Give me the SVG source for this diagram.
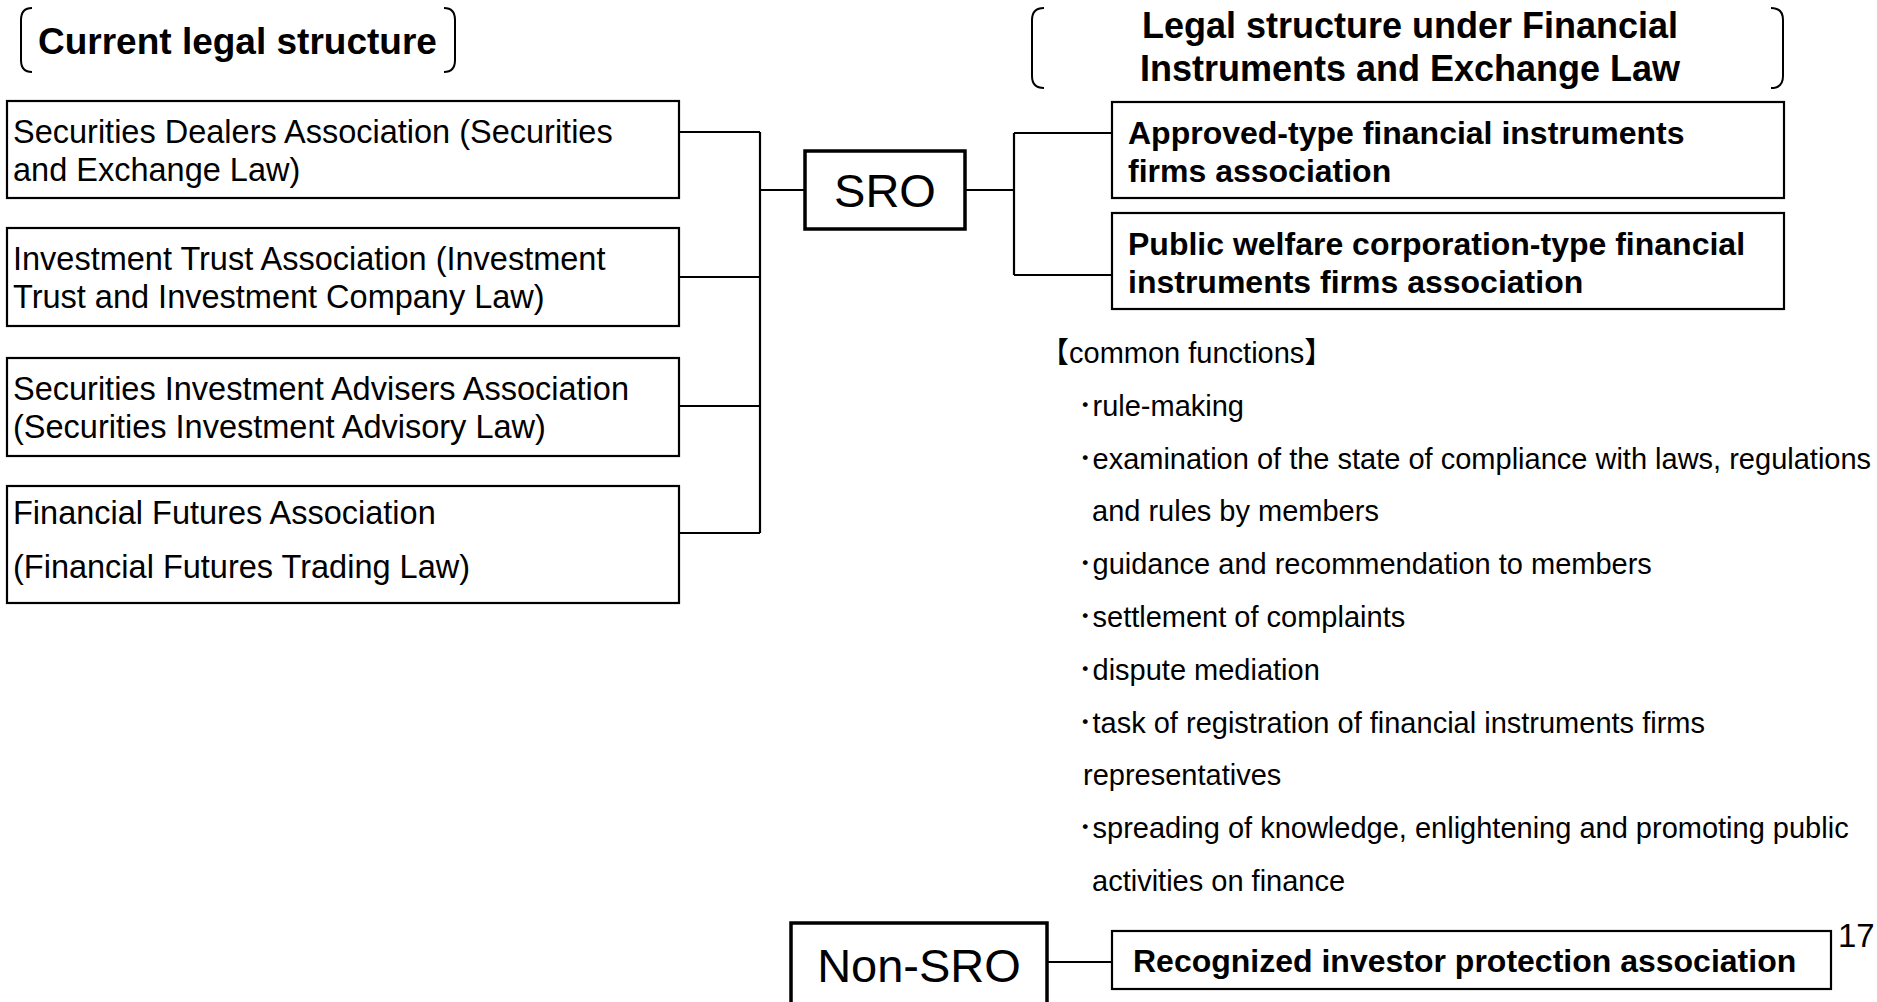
<svg xmlns="http://www.w3.org/2000/svg" width="1877" height="1002" viewBox="0 0 1877 1002">
<style>
  .bg{fill:#ffffff}
  .box{fill:#ffffff;stroke:#000;stroke-width:2.2}
  .tbox{fill:#ffffff;stroke:#000;stroke-width:3.5}
  .brk{fill:none;stroke:#000;stroke-width:2}
  .con{fill:none;stroke:#000;stroke-width:2.2}
  text{font-family:"Liberation Sans",Arial,"Noto Sans CJK JP",sans-serif;fill:#000}
  .hd{font-size:36px;font-weight:bold}
  .hl{font-size:37px;font-weight:bold}
  .lt{font-size:32.5px}
  .rt{font-size:32px;font-weight:bold}
  .big{font-size:47px}
  .fn{font-size:29px}
  .pg{font-size:33px}
</style>
<rect class="bg" x="0" y="0" width="1877" height="1002"/>

<g id="heading-current">
  <path class="brk" d="M32,8 Q21,8 21,20 L21,60 Q21,72 32,72"/>
  <path class="brk" d="M444,8 Q455,8 455,20 L455,60 Q455,72 444,72"/>
  <text class="hl" x="38" y="54">Current legal structure</text>
</g>

<g id="heading-new">
  <path class="brk" d="M1044,8 Q1032,8 1032,20 L1032,76 Q1032,88 1044,88"/>
  <path class="brk" d="M1771,8 Q1783,8 1783,20 L1783,76 Q1783,88 1771,88"/>
  <text class="hd" x="1410" y="38" text-anchor="middle">Legal structure under Financial</text>
  <text class="hd" x="1410" y="81" text-anchor="middle">Instruments and Exchange Law</text>
</g>

<g id="connectors">
  <path class="con" d="M679,132 H760 M679,277 H760 M679,406 H760 M679,533 H760 M760,132 V533 M760,190 H805"/>
  <path class="con" d="M965,190 H1014 M1014,133 V275 M1014,133 H1112 M1014,275 H1112"/>
  <path class="con" d="M1047,962 H1112"/>
</g>

<g id="node-sda">
  <rect class="box" x="7" y="101" width="672" height="97"/>
  <text class="lt" x="13" y="143">Securities Dealers Association (Securities</text>
  <text class="lt" x="13" y="181">and Exchange Law)</text>
</g>
<g id="node-ita">
  <rect class="box" x="7" y="228" width="672" height="98"/>
  <text class="lt" x="13" y="270">Investment Trust Association (Investment</text>
  <text class="lt" x="13" y="308">Trust and Investment Company Law)</text>
</g>
<g id="node-siaa">
  <rect class="box" x="7" y="358" width="672" height="98"/>
  <text class="lt" x="13" y="400">Securities Investment Advisers Association</text>
  <text class="lt" x="13" y="438">(Securities Investment Advisory Law)</text>
</g>
<g id="node-ffa">
  <rect class="box" x="7" y="486" width="672" height="117"/>
  <text class="lt" x="13" y="524">Financial Futures Association</text>
  <text class="lt" x="13" y="578">(Financial Futures Trading Law)</text>
</g>

<g id="node-sro">
  <rect class="tbox" x="805" y="151" width="160" height="78"/>
  <text class="big" x="885" y="207" text-anchor="middle">SRO</text>
</g>

<g id="node-approved">
  <rect class="box" x="1112" y="102" width="672" height="96"/>
  <text class="rt" x="1128" y="144">Approved-type financial instruments</text>
  <text class="rt" x="1128" y="182">firms association</text>
</g>
<g id="node-public">
  <rect class="box" x="1112" y="213" width="672" height="96"/>
  <text class="rt" x="1128" y="255">Public welfare corporation-type financial</text>
  <text class="rt" x="1128" y="293">instruments firms association</text>
</g>

<g id="common-functions">
  <text class="fn" x="1040" y="363">【common functions】</text>
  <text class="fn" x="1078" y="416">･rule-making</text>
  <text class="fn" x="1078" y="469">･examination of the state of compliance with laws, regulations</text>
  <text class="fn" x="1092" y="521">and rules by members</text>
  <text class="fn" x="1078" y="574">･guidance and recommendation to members</text>
  <text class="fn" x="1078" y="627">･settlement of complaints</text>
  <text class="fn" x="1078" y="680">･dispute mediation</text>
  <text class="fn" x="1078" y="733">･task of registration of financial instruments firms</text>
  <text class="fn" x="1083" y="785">representatives</text>
  <text class="fn" x="1078" y="838">･spreading of knowledge, enlightening and promoting public</text>
  <text class="fn" x="1092" y="891">activities on finance</text>
</g>

<g id="node-nonsro">
  <rect class="tbox" x="791" y="923" width="256" height="110"/>
  <text class="big" x="919" y="982" text-anchor="middle">Non-SRO</text>
</g>
<g id="node-recognized">
  <rect class="box" x="1112" y="931" width="719" height="58"/>
  <text class="rt" x="1133" y="972">Recognized investor protection association</text>
</g>

<g id="page-number">
  <text class="pg" x="1838" y="947">17</text>
</g>
</svg>
